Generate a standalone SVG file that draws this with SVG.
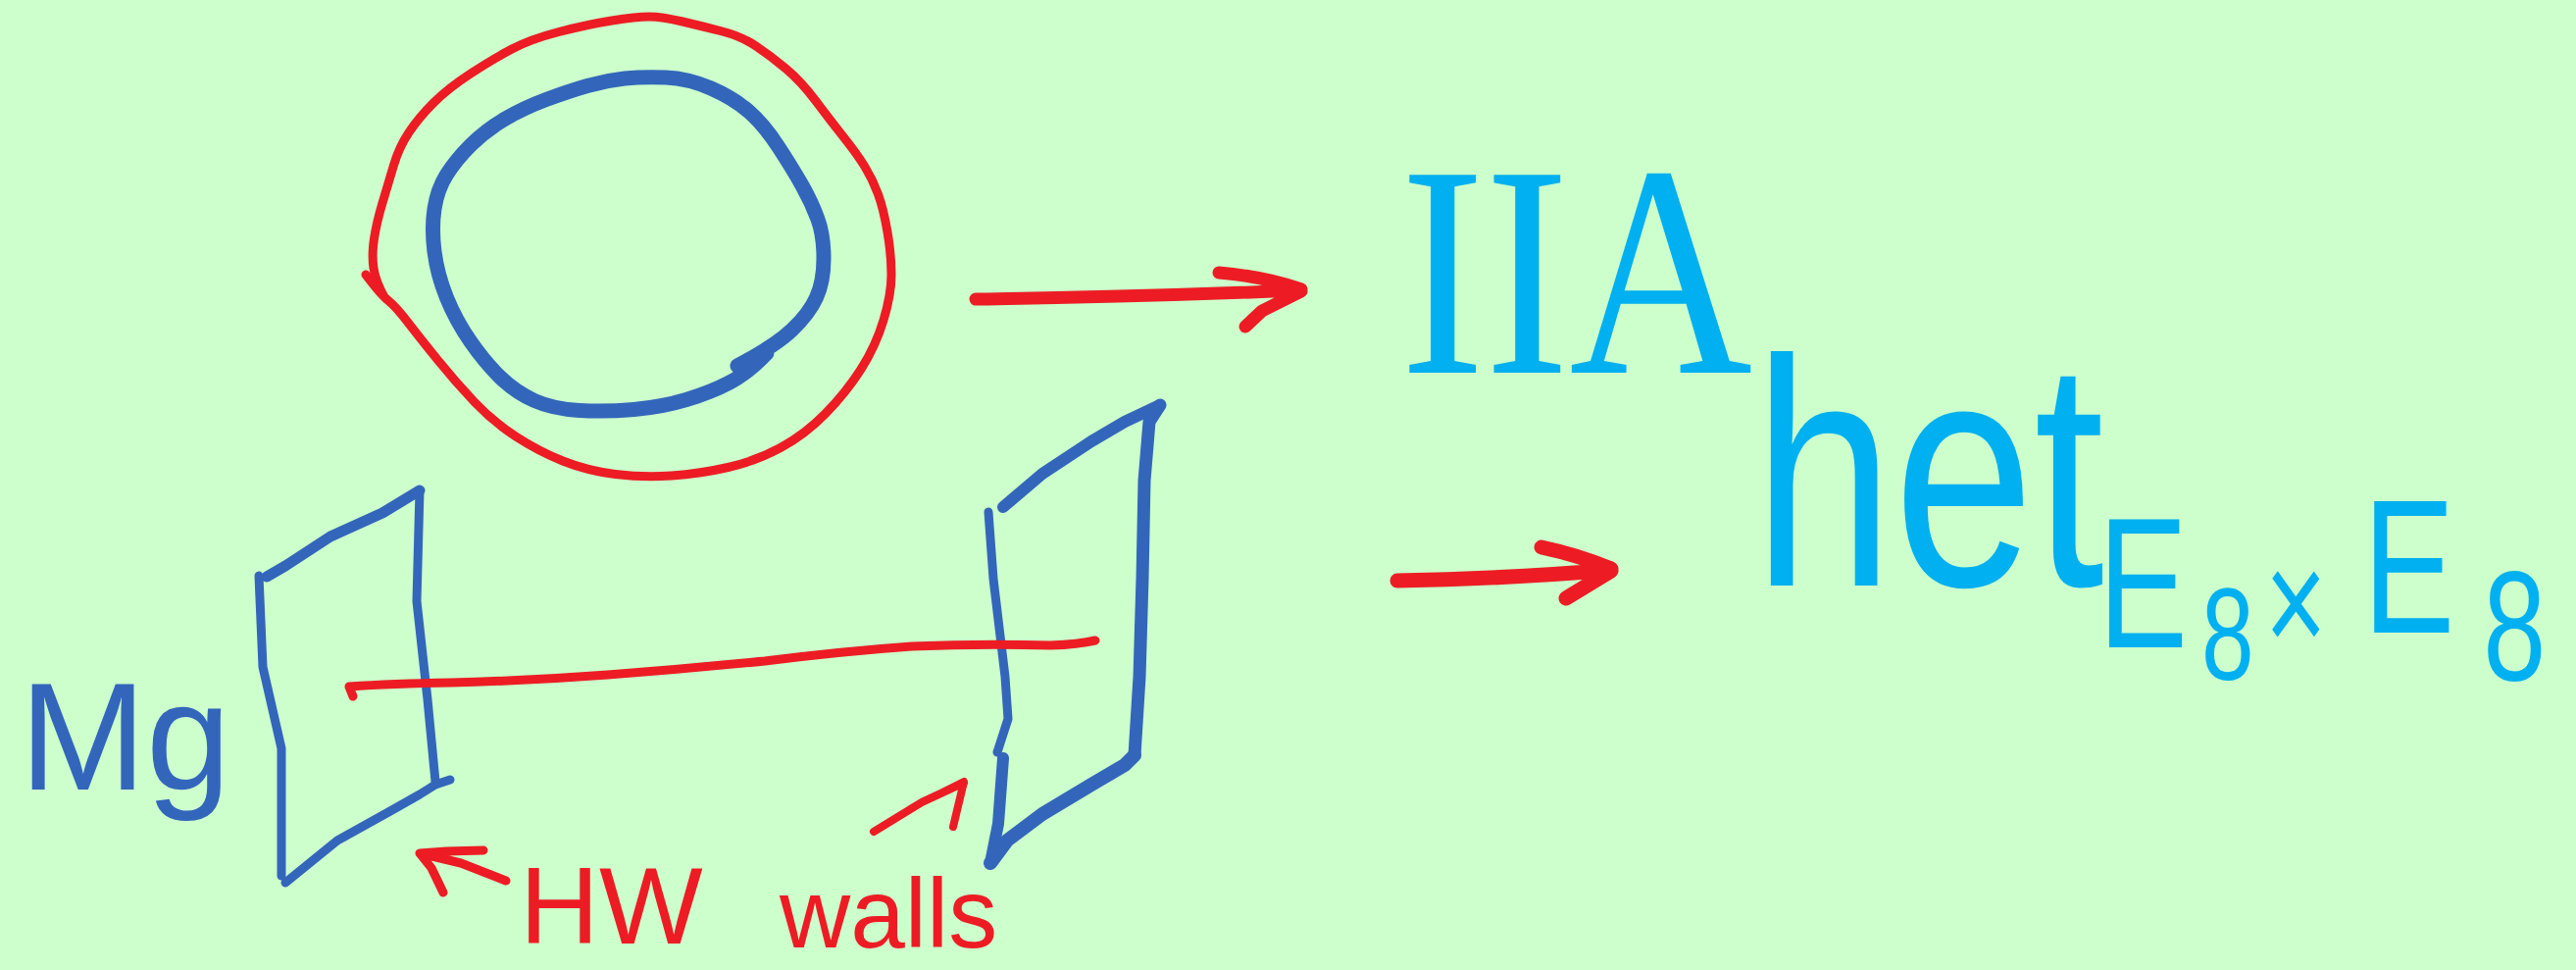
<svg xmlns="http://www.w3.org/2000/svg" width="2627" height="989" viewBox="0 0 2627 989">
<style>
.r{fill:none;stroke:#ed1c24;stroke-linecap:round;stroke-linejoin:round}
.b{fill:none;stroke:#3366bb;stroke-linecap:round;stroke-linejoin:round}
.tc{fill:#00b0f0;font-family:"Liberation Sans",Arial,sans-serif}
.tb{fill:#3366bb;font-family:"Liberation Sans",Arial,sans-serif}
.tr{fill:#ed1c24;font-family:"Liberation Sans",Arial,sans-serif}
</style>
<rect width="2627" height="989" fill="#ccffcc"/>
<g id="loops">
<path class="r" stroke-width="9" d="M373,280 Q388,300 396,306.5 Q404,313 415.5,328 Q427,343 446,366.5 Q465,390 484,410 Q503,430 526,445 Q549,460 574,470 Q599,480 627.5,483.5 Q656,487 685,485 Q714,483 742.5,476.5 Q771,470 796,456.5 Q821,443 842,421.5 Q863,400 878,376.5 Q893,353 901,326.5 Q909,300 909,280 Q909,260 905,236.5 Q901,213 895.5,198 Q890,183 882,170 Q874,157 860.5,140 Q847,123 832,103 Q817,83 801.5,70 Q786,57 771,47 Q756,37 736.5,32 Q717,27 696,22 Q675,17 662,17 Q649,17 624,21 Q599,25 570,32.5 Q541,40 522,50 Q503,60 480,75 Q457,90 442,105 Q427,120 417,135 Q407,150 401.5,168.5 Q396,187 390,207 Q384,227 381.5,243.5 Q379,260 381,273.5 Q383,287 392,303"/>
<path class="b" stroke-width="15" d="M752,373 Q790,353 807.5,336.5 Q825,320 832.5,303.5 Q840,287 840,263.5 Q840,240 834,223.5 Q828,207 818.5,190 Q809,173 794,150 Q779,127 763.5,113.5 Q748,100 725,90 Q702,80 679,79 Q656,78 637,80 Q618,82 599,87.5 Q580,93 557,101.5 Q534,110 514.5,121.5 Q495,133 480,148 Q465,163 455.5,178 Q446,193 443,213 Q440,233 443,256.5 Q446,280 455.5,303.5 Q465,327 480,348.5 Q495,370 510.5,385 Q526,400 545,408.5 Q564,417 591,418.5 Q618,420 646.5,417.5 Q675,415 700,407.5 Q725,400 744,390 Q763,380 782,360"/>
</g>
<g id="wall-left">
<polyline class="b" stroke-width="9" points="264,587 268,680 287,763 287,893"/>
<polyline class="b" stroke-width="11" points="272,588 291,577 337,547 390,523 428,500"/>
<polyline class="b" stroke-width="9" points="428,500 425,613 436,713 444,797"/>
<polyline class="b" stroke-width="9" points="459,795 444,800 428,810 398,827 344,857 291,900"/>
</g>
<g id="wall-right">
<polyline class="b" stroke-width="9" points="1008,522 1013,590 1025,690 1028,733 1017,767"/>
<polyline class="b" stroke-width="12" points="1023,773 1018,840 1010,880"/>
<polyline class="b" stroke-width="14" points="1010,880 1027,857 1063,830 1113,800 1147,780 1157,770"/>
<polyline class="b" stroke-width="13" points="1157,770 1162,690 1165,590 1167,490 1172,430 1183,413"/>
<polyline class="b" stroke-width="12" points="1183,413 1147,430 1113,450 1063,483 1023,517"/>
</g>
<g id="connectors">
<path class="r" stroke-width="9" d="M360,710 L356,700 Q400,697 460,696 Q540,694 620,688 Q700,682 780,674 Q860,664 930,659 Q1000,656 1071,658 Q1100,657 1117,653"/>
<path class="r" stroke-width="13" d="M995,305 Q1150,303 1327,296 M1243,278 Q1290,282 1327,295 M1270,333 L1287,317 L1327,297"/>
<path class="r" stroke-width="15" d="M1425,592 Q1540,590 1643,581 M1572,558 Q1610,566 1643,580 M1597,610 L1643,582"/>
<path class="r" stroke-width="9" d="M516,898 L470,880 L428,870 M493,867 L455,868 L428,870 M452,910 L440,885 L428,870"/>
<path class="r" stroke-width="8" d="M891,848 L940,818 L983,798 M953,812 L983,797 L972,843"/>
</g>
<g id="label-iia"><text class="tc" transform="translate(1428,380) scale(0.84,1)" font-size="308" style="font-family:'Liberation Serif','Times New Roman',serif">IIA</text></g>
<g id="label-het"><text class="tc" transform="translate(1788,597) scale(0.78,1)" font-size="330">het</text>
<text class="tc" transform="scale(0.72,1)" font-size="190"><tspan x="2972" y="660">E</tspan><tspan x="3118" y="693" font-size="134">8</tspan><tspan x="3208" y="666" font-size="150">×</tspan><tspan x="3347" y="645" font-size="195">E</tspan><tspan x="3517" y="693" font-size="160">8</tspan></text></g>
<g id="label-mg"><text class="tb" x="20" y="805" font-size="155">Mg</text></g>
<g id="label-hw"><text class="tr" x="530" y="962" font-size="112">HW</text><text class="tr" x="795" y="966" font-size="100">walls</text></g>
</svg>
